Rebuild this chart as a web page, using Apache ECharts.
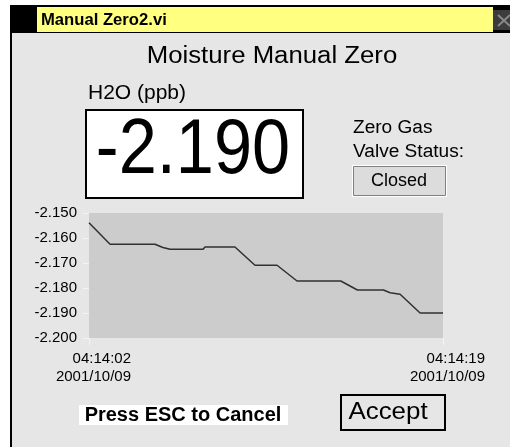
<!DOCTYPE html>
<html>
<head>
<meta charset="utf-8">
<script src="https://cdn.jsdelivr.net/npm/echarts@6/dist/echarts.min.js"></script>
<style>
html,body{margin:0;padding:0;background:#ffffff;}
#chart{width:510px;height:447px;}
</style>
</head>
<body>
<div id="chart"></div>
<script>
// ---- data (seconds since 04:14:02, H2O ppb) ----
var seconds = [0.00, 1.01, 3.17, 3.55, 3.89, 5.48, 5.57, 7.01, 7.97, 9.03, 9.99, 12.09, 12.89, 14.14, 14.46, 14.94, 15.90, 17.00];
var values  = [-2.1539, -2.1625, -2.1625, -2.1638, -2.1645, -2.1645, -2.1636, -2.1636, -2.1709, -2.1709, -2.1772, -2.1772, -2.1808, -2.1808, -2.1819, -2.1825, -2.1900, -2.1900];
var xTickTimes = ['04:14:02', '04:14:19'];
var xTickDates = ['2001/10/09', '2001/10/09'];
var yTicks = [-2.200, -2.190, -2.180, -2.170, -2.160, -2.150];
var currentValue = '-2.190';
var valveStatus = 'Closed';

var FONT = '"Liberation Sans", Arial, sans-serif';
var chart = echarts.init(document.getElementById('chart'), null, {renderer: 'canvas'});

var lineData = seconds.map(function (s, i) { return [s, values[i]]; });

var option = {
  backgroundColor: '#ffffff',
  animation: false,
  graphic: [
    // window frame
    {type: 'rect', left: 10, top: 5, shape: {width: 500, height: 28}, style: {fill: '#000000'}, z: 0},
    {type: 'rect', left: 37, top: 7, shape: {width: 456, height: 25}, style: {fill: '#ffff80'}, z: 1},
    {type: 'rect', left: 493, top: 10, shape: {width: 17, height: 20}, style: {fill: '#3c3c3c'}, z: 1},
    {type: 'line', shape: {x1: 498, y1: 15, x2: 510, y2: 26}, style: {stroke: '#8a8a8a', lineWidth: 2}, z: 2},
    {type: 'line', shape: {x1: 498, y1: 26, x2: 510, y2: 15}, style: {stroke: '#8a8a8a', lineWidth: 2}, z: 2},
    {type: 'text', x: 41, y: 21, scaleX: 1.04, originX: 0, originY: 0, style: {text: 'Manual Zero2.vi', font: 'bold 16px ' + FONT, fill: '#000', align: 'left', verticalAlign: 'middle'}, z: 2},
    {type: 'rect', left: 10, top: 33, shape: {width: 2, height: 414}, style: {fill: '#000000'}, z: 0},
    {type: 'rect', left: 12, top: 33, shape: {width: 498, height: 414}, style: {fill: '#e6e6e6'}, z: -10},
    // headings
    {type: 'text', x: 272, y: 57, scaleX: 1.12, originX: 0, originY: 0, style: {text: 'Moisture Manual Zero', font: '23px ' + FONT, fill: '#000', align: 'center', verticalAlign: 'middle'}, z: 2},
    {type: 'text', x: 88, y: 93, style: {text: 'H2O (ppb)', font: '21px ' + FONT, fill: '#000', align: 'left', verticalAlign: 'middle'}, z: 2},
    // numeric indicator
    {type: 'rect', left: 85, top: 109, shape: {width: 217, height: 88}, style: {fill: '#ffffff', stroke: '#000000', lineWidth: 2}, z: 1},
    {type: 'text', x: 193, y: 152, scaleX: 0.89, originX: 0, originY: 0, style: {text: currentValue, font: '77px ' + FONT, fill: '#000', align: 'center', verticalAlign: 'middle'}, z: 2},
    // valve status
    {type: 'text', x: 353, y: 128, scaleX: 1.06, originX: 0, originY: 0, style: {text: 'Zero Gas', font: '18px ' + FONT, fill: '#000', align: 'left', verticalAlign: 'middle'}, z: 2},
    {type: 'text', x: 353, y: 152, scaleX: 1.06, originX: 0, originY: 0, style: {text: 'Valve Status:', font: '18px ' + FONT, fill: '#000', align: 'left', verticalAlign: 'middle'}, z: 2},
    {type: 'rect', left: 352, top: 165, shape: {width: 95, height: 32}, style: {fill: '#ffffff'}, z: 1},
    {type: 'rect', left: 353, top: 166, shape: {width: 92, height: 29}, style: {fill: '#dcdcdc', stroke: '#808080', lineWidth: 1}, z: 2},
    {type: 'text', x: 399, y: 181, style: {text: valveStatus, font: '18px ' + FONT, fill: '#000', align: 'center', verticalAlign: 'middle'}, z: 3},
    // bottom controls
    {type: 'rect', left: 79, top: 405, shape: {width: 209, height: 20}, style: {fill: '#ffffff'}, z: 1},
    {type: 'text', x: 183, y: 415, style: {text: 'Press ESC to Cancel', font: 'bold 20px ' + FONT, fill: '#000', align: 'center', verticalAlign: 'middle'}, z: 2},
    {type: 'rect', left: 340, top: 394, shape: {width: 104, height: 35}, style: {fill: '#e6e6e6', stroke: '#000000', lineWidth: 2}, z: 1},
    {type: 'text', x: 388, y: 412, scaleX: 1.08, originX: 0, originY: 0, style: {text: 'Accept', font: '24px ' + FONT, fill: '#000', align: 'center', verticalAlign: 'middle'}, z: 2}
  ],
  grid: {
    left: 89, top: 213, right: 67, bottom: 109,
    show: true, backgroundColor: '#cccccc', borderWidth: 0
  },
  xAxis: {
    type: 'value', min: 0, max: 17, interval: 17,
    axisLine: {show: false},
    splitLine: {show: false},
    axisTick: {show: true, length: 7, lineStyle: {color: '#f4f4f4', width: 1}},
    axisLabel: {
      margin: 12,
      formatter: function (v) {
        var i = v <= 0 ? 0 : 1;
        return '{a|' + xTickTimes[i] + '}\n{a|' + xTickDates[i] + '}';
      },
      rich: {a: {width: 84, align: 'right', fontFamily: FONT, fontSize: 15, lineHeight: 18, color: '#000'}}
    }
  },
  yAxis: {
    type: 'value', min: yTicks[0], max: yTicks[yTicks.length - 1], interval: 0.01,
    offset: 3,
    axisLine: {show: false},
    splitLine: {show: false},
    axisTick: {show: true, length: 6, lineStyle: {color: '#f4f4f4', width: 1}},
    axisLabel: {
      margin: 9,
      fontFamily: FONT, fontSize: 15, color: '#000',
      formatter: function (v) { return v.toFixed(3); }
    }
  },
  series: [{
    type: 'line',
    data: lineData,
    symbol: 'none',
    lineStyle: {color: '#303030', width: 1.5},
    z: 5
  }]
};
chart.setOption(option);
</script>
</body>
</html>
